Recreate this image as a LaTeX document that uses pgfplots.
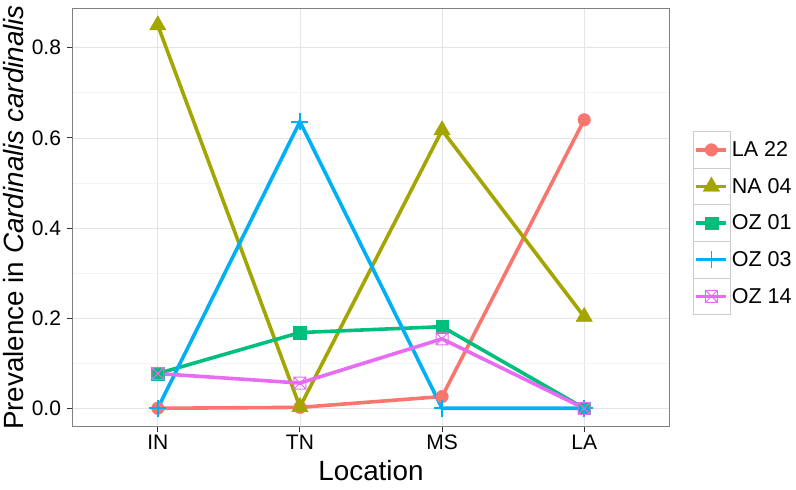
\documentclass[border=0pt]{standalone}
\usepackage{pgfplots}
\pgfplotsset{compat=1.18}
\usepackage{fontspec}
\setmainfont{Liberation Sans}
\definecolor{c1}{HTML}{F8766D}
\definecolor{c2}{HTML}{A3A500}
\definecolor{c3}{HTML}{00BF7D}
\definecolor{c4}{HTML}{00B0F6}
\definecolor{c5}{HTML}{E76BF3}
\definecolor{gmaj}{HTML}{E5E5E5}
\definecolor{gmin}{HTML}{F4F4F4}
\pgfdeclareplotmark{boxx}{%
  \pgfpathrectangle{\pgfqpoint{-\pgfplotmarksize}{-\pgfplotmarksize}}{\pgfqpoint{2\pgfplotmarksize}{2\pgfplotmarksize}}%
  \pgfpathmoveto{\pgfqpoint{-\pgfplotmarksize}{-\pgfplotmarksize}}%
  \pgfpathlineto{\pgfqpoint{\pgfplotmarksize}{\pgfplotmarksize}}%
  \pgfpathmoveto{\pgfqpoint{-\pgfplotmarksize}{\pgfplotmarksize}}%
  \pgfpathlineto{\pgfqpoint{\pgfplotmarksize}{-\pgfplotmarksize}}%
  \pgfusepathqstroke}
\pgfplotsset{
  ggleg/.style={legend image code/.code={
    \draw[draw=black!20, fill=white, line width=0.8pt] (-3.5pt,-18.3pt) rectangle (33.5pt,18.3pt);
    \draw[##1, line width=3.4pt] (0pt,0pt) -- (30pt,0pt);
    \draw[##1] plot coordinates {(15pt,0pt)};
  }},
  ln/.style={line width=3.6pt, mark=none, forget plot}
}
\pgfplotstableread{
x  la22  na04  oz01   oz03   oz14
0  0.000 0.850 0.077  0.000  0.077
1  0.002 0.003 0.168  0.636  0.056
2  0.026 0.617 0.181  0.000  0.154
3  0.640 0.203 0.000  0.000  0.000
}\prev
\begin{document}
\begin{tikzpicture}
\begin{axis}[
  at={(72.5pt,63.7pt)}, anchor=south west,
  scale only axis, width=597pt, height=417.6pt,
  xmin=-0.6, xmax=3.6, ymin=-0.04, ymax=0.8866,
  xtick={0,1,2,3}, xticklabels={IN,TN,MS,LA},
  ytick={0,0.2,0.4,0.6,0.8},
  minor ytick={0.1,0.3,0.5,0.7},
  tick pos=left, tick align=outside,
  major tick length=5.5pt, minor tick length=0pt,
  every tick/.style={black!80, line width=0.9pt},
  grid=both,
  major grid style={gmaj, line width=0.6pt},
  minor grid style={gmin, line width=0.8pt},
  axis line style={black!50, line width=0.9pt},
  /pgf/number format/assume math mode=true,
  yticklabel style={/pgf/number format/.cd, fixed, fixed zerofill, precision=1, /tikz/.cd, xshift=-2.5pt},
  ticklabel style={font=\fontsize{21}{24}\selectfont, text=black},
  xlabel={Location},
  ylabel={Prevalence in \textit{Cardinalis cardinalis}},
  label style={font=\fontsize{27.8}{30}\selectfont},
  xlabel style={at={(axis description cs:0.5,-0.1286)}, anchor=base},
  ylabel style={at={(axis description cs:-0.0820,0.5)}, anchor=base},
  legend style={at={(axis description cs:1.0382,0.7071)}, anchor=north west,
    draw=none, fill=none, inner sep=0pt, row sep=-0.8pt,
    nodes={inner sep=0pt, inner xsep=1.5pt, font=\fontsize{21.5}{24}\selectfont},
    cells={anchor=west}},
  legend cell align=left,
]
\addplot[ln, c1] table[x=x, y=la22] {\prev};
\addplot[ln, c2] table[x=x, y=na04] {\prev};
\addplot[ln, c3] table[x=x, y=oz01] {\prev};
\addplot[ln, c4] table[x=x, y=oz03] {\prev};
\addplot[ln, c5] table[x=x, y=oz14] {\prev};
\addplot[ggleg, c1, only marks, mark=*, mark size=6.3pt, mark options={draw=none, fill=c1}] table[x=x, y=la22] {\prev};
\addplot[ggleg, c2, only marks, mark=triangle*, mark size=9.5pt, mark options={draw=none, fill=c2}] table[x=x, y=na04] {\prev};
\addplot[ggleg, c3, only marks, mark=square*, mark size=6.3pt, mark options={draw=none, fill=c3}] table[x=x, y=oz01] {\prev};
\addplot[ggleg, c4, only marks, mark=+, mark size=8.5pt, mark options={line width=1.8pt}] table[x=x, y=oz03] {\prev};
\addplot[ggleg, c5, only marks, mark=boxx, mark size=6pt, mark options={line width=1pt}] table[x=x, y=oz14] {\prev};
\legend{LA 22, NA 04, OZ 01, OZ 03, OZ 14}
\end{axis}
\pgfresetboundingbox
\useasboundingbox (0,0) rectangle (796pt,490pt);
\end{tikzpicture}
\end{document}
